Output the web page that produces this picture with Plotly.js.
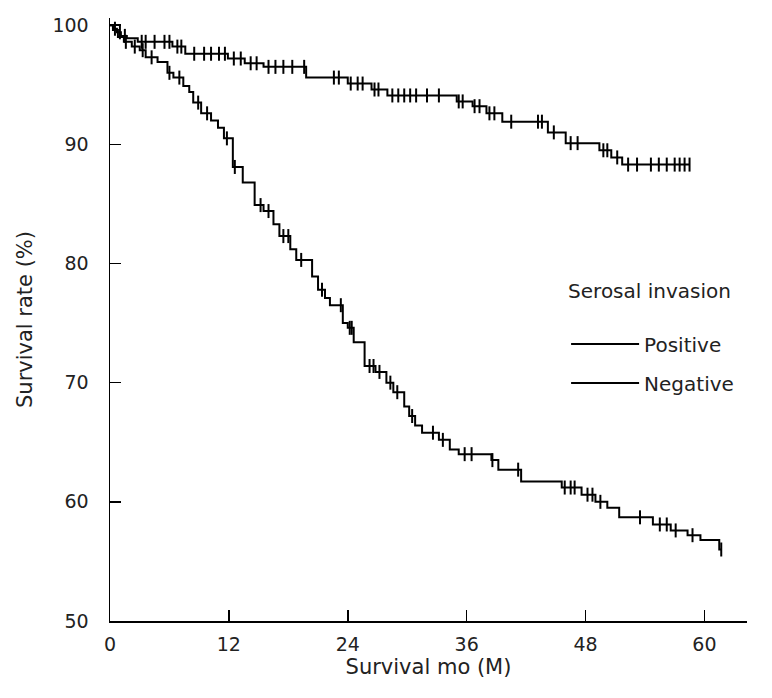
<!DOCTYPE html>
<html>
<head>
<meta charset="utf-8">
<script src="https://cdn.plot.ly/plotly-3.0.1.min.js"></script>
<style>html,body{margin:0;padding:0;background:#fff;}#chart{width:772px;height:698px;}</style>
</head>
<body>
<div id="chart"></div>
<script>
// Kaplan-Meier step points (time in months, survival %)
const negTime = [0, 0.3, 0.7, 1.1, 1.7, 2.8, 6.3, 7.6, 11.9, 13.6, 15.5, 19.8, 24.0, 26.4, 28.0, 35.0, 36.6, 38.0, 39.6, 44.2, 46.0, 49.4, 50.6, 51.7, 58.5];
const negSurv = [100, 99.7, 99.4, 99.1, 98.9, 98.6, 98.2, 97.6, 97.2, 96.8, 96.5, 95.6, 95.1, 94.6, 94.1, 93.6, 93.2, 92.6, 91.9, 91.0, 90.1, 89.5, 88.9, 88.3, 88.3];
const negCensor = [0.5, 1.0, 1.5, 3.2, 3.6, 4.5, 5.5, 6.0, 6.8, 7.2, 8.5, 9.5, 10.2, 11.0, 11.6, 12.5, 13.2, 14.2, 14.8, 16.0, 16.7, 17.5, 18.4, 19.6, 22.6, 23.1, 24.3, 25.0, 25.5, 26.7, 27.1, 28.5, 29.1, 29.7, 30.3, 30.9, 32.0, 33.2, 35.2, 35.6, 36.8, 37.3, 38.3, 38.8, 40.5, 43.2, 43.6, 44.8, 46.5, 47.2, 49.8, 50.2, 51.2, 52.3, 53.2, 54.6, 55.4, 56.2, 57.0, 57.5, 58.0, 58.5];

const posTime = [0, 0.3, 0.8, 1.4, 2.2, 3.0, 3.6, 4.8, 5.8, 6.4, 7.4, 8.0, 8.4, 9.2, 10.2, 10.9, 11.5, 12.4, 13.4, 14.6, 15.5, 16.5, 17.1, 18.2, 18.8, 20.4, 21.0, 21.7, 22.2, 23.5, 24.0, 24.6, 25.7, 26.8, 27.9, 28.6, 29.7, 30.2, 30.8, 31.5, 33.2, 34.3, 35.2, 38.5, 39.2, 41.5, 45.6, 47.6, 49.0, 50.2, 51.4, 54.8, 56.6, 58.3, 59.6, 61.5, 61.7];
const posSurv = [100, 99.6, 99.0, 98.6, 98.2, 97.9, 97.3, 96.9, 96.0, 95.6, 94.9, 94.4, 93.5, 92.6, 92.0, 91.4, 90.5, 88.1, 86.8, 84.9, 84.4, 83.3, 82.3, 81.2, 80.3, 78.9, 77.8, 77.1, 76.5, 75.0, 74.6, 73.4, 71.4, 70.9, 70.0, 69.2, 68.0, 67.2, 66.4, 65.8, 65.2, 64.4, 64.0, 63.5, 62.7, 61.7, 61.2, 60.6, 60.0, 59.5, 58.7, 58.1, 57.6, 57.2, 56.8, 56.0, 56.0];
const posCensor = [1.6, 2.5, 3.3, 4.2, 6.0, 7.0, 8.9, 9.8, 11.8, 12.6, 15.2, 16.0, 17.5, 18.0, 19.3, 21.4, 23.3, 24.2, 24.4, 26.2, 26.6, 27.2, 28.3, 29.0, 30.5, 32.6, 33.6, 35.8, 36.5, 38.6, 41.2, 45.9, 46.5, 46.9, 48.2, 48.7, 49.5, 53.5, 55.5, 56.2, 57.1, 58.8, 61.7];

const seriesNames = ['Positive', 'Negative'];
const legendTitle = 'Serosal invasion';
const xTicks = [0, 12, 24, 36, 48, 60];
const yTicks = [50, 60, 70, 80, 90, 100];

function survAt(times, surv, t) {
  let v = surv[0];
  for (let i = 0; i < times.length; i++) { if (times[i] <= t) v = surv[i]; }
  return v;
}

const black = '#000';
const traces = [
  {x: posTime, y: posSurv, type: 'scatter', mode: 'lines', line: {shape: 'hv', color: black, width: 2},
   name: seriesNames[0], legendgroup: 'p', hoverinfo: 'skip'},
  {x: posCensor, y: posCensor.map(t => survAt(posTime, posSurv, t)), type: 'scatter', mode: 'markers',
   marker: {symbol: 'line-ns', size: 10, line: {width: 2, color: black}}, showlegend: false, legendgroup: 'p', hoverinfo: 'skip'},
  {x: negTime, y: negSurv, type: 'scatter', mode: 'lines', line: {shape: 'hv', color: black, width: 2},
   name: seriesNames[1], legendgroup: 'n', hoverinfo: 'skip'},
  {x: negCensor, y: negCensor.map(t => survAt(negTime, negSurv, t)), type: 'scatter', mode: 'markers',
   marker: {symbol: 'line-ns', size: 10, line: {width: 2, color: black}}, showlegend: false, legendgroup: 'n', hoverinfo: 'skip'}
];

const axisCommon = {
  ticks: 'inside', ticklen: 11, tickwidth: 1.5, tickcolor: black,
  showline: true, linecolor: black, linewidth: 1.5, showgrid: false, zeroline: false,
  tickfont: {size: 19, color: '#222'}, fixedrange: true
};

const layout = {
  width: 772, height: 698,
  margin: {l: 110, r: 25, t: 18, b: 77, pad: 0},
  paper_bgcolor: '#fff', plot_bgcolor: '#fff',
  font: {family: 'DejaVu Sans, Verdana, sans-serif', size: 19, color: '#222'},
  showlegend: true,
  xaxis: Object.assign({}, axisCommon, {range: [0, 64.3], tickvals: xTicks, ticktext: xTicks.map(String),
    ticklabelstandoff: 6,
    title: {text: 'Survival mo (M)', standoff: 2, font: {size: 21}}}),
  yaxis: Object.assign({}, axisCommon, {range: [50, 100.6], tickvals: yTicks, ticktext: yTicks.map(String),
    ticklabelstandoff: 16, title: {text: 'Survival rate (%)', standoff: 14, font: {size: 21}}}),
  legend: {x: 0.716, y: 0.578, xanchor: 'left', yanchor: 'top', bgcolor: 'rgba(0,0,0,0)',
    title: {text: legendTitle + '<br> ', font: {size: 20}}, font: {size: 20},
    traceorder: 'grouped', tracegroupgap: 10, itemwidth: 68}
};

Plotly.newPlot('chart', traces, layout, {displayModeBar: false, staticPlot: true});
</script>
</body>
</html>
